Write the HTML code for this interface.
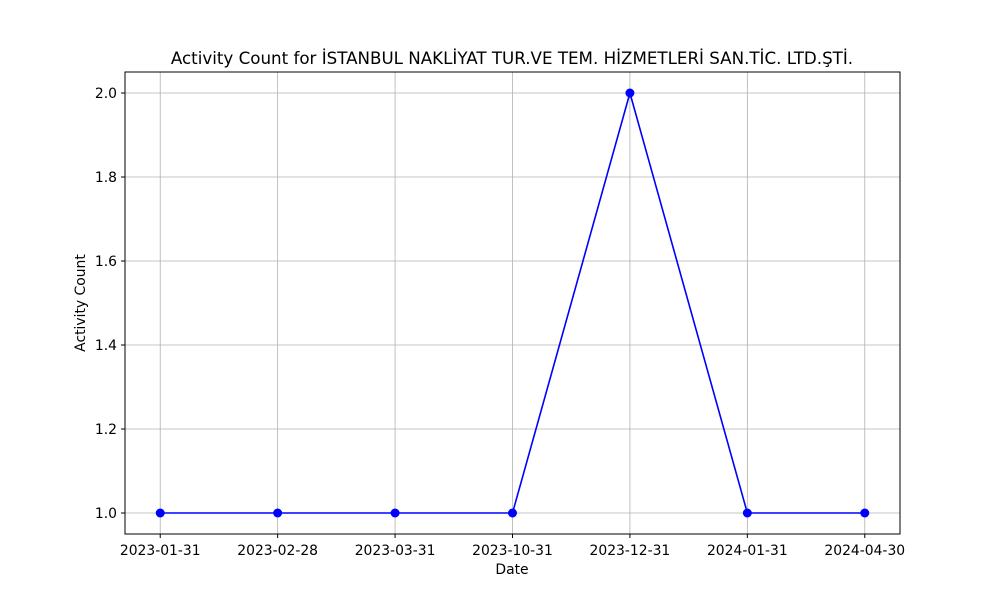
<!DOCTYPE html>
<html><head><meta charset="utf-8"><style>
body{margin:0;background:#fff;}
svg text{font-family:"DejaVu Sans","Liberation Sans",sans-serif;fill:#000;}
</style></head><body>
<svg id="chart" width="1000" height="600" xmlns="http://www.w3.org/2000/svg">
<rect width="1000" height="600" fill="#fff"/>
<text x="512" y="64" font-size="16.7" text-anchor="middle">Activity Count for İSTANBUL NAKLİYAT TUR.VE TEM. HİZMETLERİ SAN.TİC. LTD.ŞTİ.</text>
<g id="grid"></g><g id="ticks"></g><g id="series"></g>
<rect x="125" y="72" width="775" height="462" fill="none" stroke="#000" stroke-width="1"/>
<text x="512" y="574" font-size="13.9" text-anchor="middle">Date</text>
<text transform="translate(85,303) rotate(-90)" font-size="13.9" text-anchor="middle">Activity Count</text>
</svg>
<script>
const categories=["2023-01-31","2023-02-28","2023-03-31","2023-10-31","2023-12-31","2024-01-31","2024-04-30"];
const values=[1,1,1,1,2,1,1];
const yTicks=[1.0,1.2,1.4,1.6,1.8,2.0];
const NS="http://www.w3.org/2000/svg";
const L=125,R=900,T=72,B=534;
const xMin=-0.3,xMax=categories.length-1+0.3,yMin=0.95,yMax=2.05;
function xs(i){return L+(i-xMin)/(xMax-xMin)*(R-L);}
function ys(v){return B-(v-yMin)/(yMax-yMin)*(B-T);}
function mk(tag,attrs,parent){const e=document.createElementNS(NS,tag);for(const k in attrs)e.setAttribute(k,attrs[k]);document.getElementById(parent).appendChild(e);return e;}
categories.forEach((c,i)=>{
 const x=xs(i);
 const g=mk('line',{x1:x,x2:x,y1:T,y2:B,stroke:'#b0b0b0','stroke-width':0.8},'grid');
 
 
 const t=mk('line',{x1:x,x2:x,y1:B,y2:B+4,stroke:'#000'},'ticks');
 
 
 const l=mk('text',{x:x,y:B+21,'font-size':13.9,'text-anchor':'middle'},'ticks');
 l.textContent=c;
 
 
});
yTicks.forEach(v=>{
 const y=ys(v);
 const g=mk('line',{x1:L,x2:R,y1:y,y2:y,stroke:'#b0b0b0','stroke-width':0.8},'grid');
 
 
 const t=mk('line',{x1:L-4,x2:L,y1:y,y2:y,stroke:'#000'},'ticks');
 
 
 const l=mk('text',{x:L-8,y:y+5,'font-size':13.9,'text-anchor':'end'},'ticks');
 l.textContent=v.toFixed(1);
 
 
});
const line=mk('polyline',{points:values.map((v,i)=>xs(i)+','+ys(v)).join(' '),fill:'none',stroke:'#0000ff','stroke-width':1.6},'series');


values.forEach((v,i)=>{
 const p=mk('circle',{cx:xs(i),cy:ys(v),r:4.5,fill:'#0000ff'},'series');
 
 
});
</script>
</body></html>
